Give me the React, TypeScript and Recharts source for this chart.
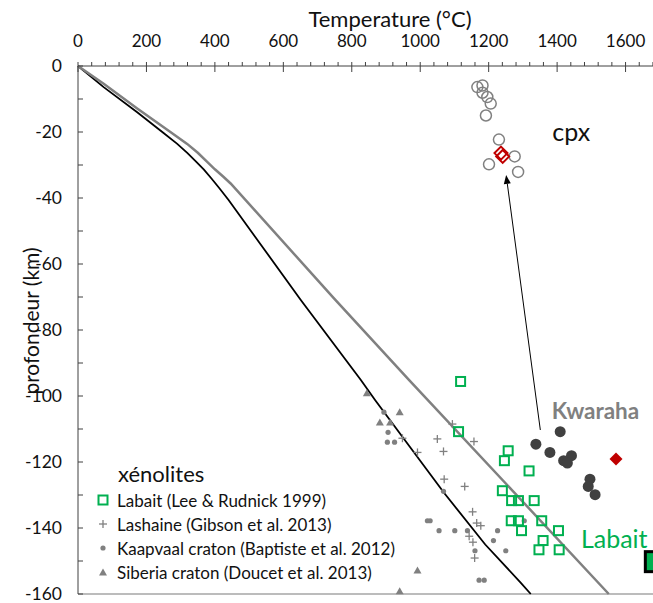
import React from "react";
import { ScatterChart, Scatter, XAxis, YAxis, ReferenceLine, ReferenceDot, Legend, Label } from "recharts";

const FONT = "Lato, 'Open Sans', sans-serif";
const GREEN = "#00b050";
const GREY = "#808080";
const DARK = "#404040";
const RED = "#c00000";
const AXIS = "#404040";

// tick labels
const tempTicks = [0, 200, 400, 600, 800, 1000, 1200, 1400, 1600];
const depthTicks = [0, -20, -40, -60, -80, -100, -120, -140, -160];
const xMinorStep = 40;
const yMinorStep = 10;

// geotherms (T in °C, d in km)
const blackGeotherm = [
  { T: 0, d: 0 }, { T: 75, d: -6.4 }, { T: 173, d: -14 }, { T: 250, d: -20.3 }, { T: 290, d: -23.6 },
  { T: 320, d: -26.4 }, { T: 345, d: -29 }, { T: 368, d: -31.4 }, { T: 390, d: -34.1 },
  { T: 412, d: -36.9 }, { T: 440, d: -40.6 }, { T: 651, d: -70.9 }, { T: 826, d: -95.1 },
  { T: 868, d: -101.2 }, { T: 1070, d: -129.4 }, { T: 1190, d: -145 }, { T: 1294, d: -156.6 },
  { T: 1323, d: -160 },
];
const greyGeotherm = [
  { T: 0, d: 0 }, { T: 75, d: -5.4 }, { T: 173, d: -12.9 }, { T: 270, d: -20 }, { T: 319, d: -23.6 },
  { T: 350, d: -26.3 }, { T: 376, d: -28.9 }, { T: 400, d: -31.3 }, { T: 424, d: -33.5 },
  { T: 446, d: -35.6 }, { T: 748, d: -70.4 }, { T: 967, d: -95.1 }, { T: 1294, d: -131.4 },
  { T: 1551, d: -160 },
];

// xenoliths
const labait = [
  { T: 1118, d: -95.6 }, { T: 1112, d: -110.8 }, { T: 1257, d: -116.6 }, { T: 1246, d: -119.6 },
  { T: 1318, d: -122.7 }, { T: 1240, d: -128.7 }, { T: 1267, d: -131.7 }, { T: 1287, d: -131.7 },
  { T: 1333, d: -131.7 }, { T: 1266, d: -137.8 }, { T: 1287, d: -137.8 }, { T: 1355, d: -137.8 },
  { T: 1296, d: -140.8 }, { T: 1404, d: -140.8 }, { T: 1359, d: -143.8 }, { T: 1347, d: -146.6 },
  { T: 1406, d: -146.6 },
];
const lashaine = [
  { T: 1094, d: -108.5 }, { T: 1050, d: -113 }, { T: 1157, d: -113.8 }, { T: 948, d: -112.8 },
  { T: 992, d: -117.1 }, { T: 1068, d: -116.8 }, { T: 1070, d: -125.2 }, { T: 1130, d: -127.4 },
  { T: 1153, d: -135.1 }, { T: 1165, d: -138.5 }, { T: 1177, d: -139.3 }, { T: 1143, d: -142.5 },
  { T: 1154, d: -144.3 }, { T: 1159, d: -149.1 },
];
const kaapvaal = [
  { T: 894, d: -104.9 }, { T: 906, d: -111 }, { T: 904, d: -114 }, { T: 925, d: -114 },
  { T: 1068, d: -128.9 }, { T: 1021, d: -137.8 }, { T: 1029, d: -137.8 }, { T: 1055, d: -140.8 },
  { T: 1101, d: -140.8 }, { T: 1138, d: -140.8 }, { T: 1226, d: -140.8 }, { T: 1214, d: -143.8 },
  { T: 1160, d: -146.9 }, { T: 1250, d: -146.9 }, { T: 1304, d: -137.8 }, { T: 1172, d: -155.8 },
  { T: 1187, d: -155.8 },
];
const siberia = [
  { T: 844, d: -99.2 }, { T: 940, d: -104.9 }, { T: 882, d: -108 }, { T: 912, d: -108 },
  { T: 992, d: -152.9 }, { T: 940, d: -159.2 },
];

// Kwaraha and cpx
const kwaraha = [
  { T: 1409, d: -110.8 }, { T: 1338, d: -114.6 }, { T: 1379, d: -117.1 }, { T: 1442, d: -118.1 },
  { T: 1419, d: -119.6 }, { T: 1430, d: -120.3 }, { T: 1496, d: -125.2 }, { T: 1491, d: -127.4 },
  { T: 1511, d: -129.9 },
];
const kwarahaMean = [{ T: 1572, d: -119.1 }];
const cpx = [
  { T: 1167, d: -6.4 }, { T: 1182, d: -5.9 }, { T: 1182, d: -8.1 }, { T: 1196, d: -9.4 },
  { T: 1206, d: -11.4 }, { T: 1192, d: -15 }, { T: 1230, d: -22.3 }, { T: 1276, d: -27.4 },
  { T: 1201, d: -29.8 }, { T: 1286, d: -32.1 },
];
const cpxMean = [{ T: 1236, d: -26.4 }, { T: 1241, d: -27.4 }];
const arrowFrom = { T: 1351, d: -110.3 };
const arrowTo = { T: 1251, d: -33 };

const xTicks = Array.from({ length: 1800 / xMinorStep + 1 }, (_, i) => i * xMinorStep);
const yTicks = Array.from({ length: 160 / yMinorStep + 1 }, (_, i) => -i * yMinorStep);

const TopTick = ({ x, y, payload }: any) => {
  const major = payload.value % 200 === 0;
  const labelled = tempTicks.includes(payload.value);
  return (
    <g>
      <line x1={x} x2={x} y1={y - 4} y2={major ? y + 6 : y} stroke={AXIS} strokeWidth={1} />
      {labelled && (
        <text x={x} y={y - 19} textAnchor="middle" fontSize={17} fontFamily={FONT} fill="#111">
          {payload.value}
        </text>
      )}
    </g>
  );
};

const LeftTick = ({ x, y, payload }: any) => {
  const major = depthTicks.includes(payload.value);
  return (
    <g>
      <line x1={x} x2={x + 5} y1={y} y2={y} stroke={AXIS} strokeWidth={1} />
      {major && (
        <text x={x - 16} y={y + 6} textAnchor="end" fontSize={17.5} fontFamily={FONT} fill="#111">
          {payload.value}
        </text>
      )}
    </g>
  );
};

const Square = ({ cx, cy }: any) => (
  <rect x={cx - 4.5} y={cy - 4.5} width={9} height={9} fill="none" stroke={GREEN} strokeWidth={2} />
);
const Plus = ({ cx, cy }: any) => (
  <g stroke={GREY} strokeWidth={1.3}>
    <line x1={cx - 4} x2={cx + 4} y1={cy} y2={cy} />
    <line x1={cx} x2={cx} y1={cy - 4} y2={cy + 4} />
  </g>
);
const SmallDot = ({ cx, cy }: any) => <circle cx={cx} cy={cy} r={2.6} fill={GREY} />;
const Triangle = ({ cx, cy }: any) => (
  <polygon points={`${cx},${cy - 4} ${cx - 4},${cy + 3} ${cx + 4},${cy + 3}`} fill={GREY} />
);
const BigDot = ({ cx, cy }: any) => <circle cx={cx} cy={cy} r={5.5} fill={DARK} />;
const OpenCircle = ({ cx, cy }: any) => (
  <circle cx={cx} cy={cy} r={5.5} fill="none" stroke={GREY} strokeWidth={1.5} />
);
const Diamond = ({ cx, cy, filled }: any) => (
  <polygon
    points={`${cx},${cy - 6.5} ${cx + 6.5},${cy} ${cx},${cy + 6.5} ${cx - 6.5},${cy}`}
    fill={filled ? RED : "none"}
    stroke={RED}
    strokeWidth={filled ? 0 : 2}
  />
);
const NoDot = () => <g />;

const Arrow = (p: any) => {
  const { x1, y1, x2, y2 } = p;
  const a = Math.atan2(y2 - y1, x2 - x1);
  const bx = x2 - 9 * Math.cos(a);
  const by = y2 - 9 * Math.sin(a);
  const ox = -Math.sin(a) * 3.5;
  const oy = Math.cos(a) * 3.5;
  return (
    <g>
      <line x1={x1} y1={y1} x2={bx} y2={by} stroke="#000" strokeWidth={1} />
      <polygon points={`${x2},${y2} ${bx + ox},${by + oy} ${bx - ox},${by - oy}`} fill="#000" />
    </g>
  );
};

const textAt = (txt: string, size: number, color: string, bold = false) => (p: any) => (
  <text x={p.cx} y={p.cy} textAnchor="middle" fontSize={size} fontFamily={FONT} fill={color} fontWeight={bold ? 700 : 400}>
    {txt}
  </text>
);

const legendRows = [
  { label: "Labait (Lee & Rudnick 1999)", shape: "square" },
  { label: "Lashaine (Gibson et al. 2013)", shape: "plus" },
  { label: "Kaapvaal craton (Baptiste et al. 2012)", shape: "dot" },
  { label: "Siberia craton (Doucet et al. 2013)", shape: "triangle" },
];

const LegendMark = ({ shape }: { shape: string }) => (
  <svg width={14} height={14} style={{ marginRight: 7, flex: "none" }}>
    {shape === "square" && <Square cx={7} cy={7} />}
    {shape === "plus" && <Plus cx={7} cy={7} />}
    {shape === "dot" && <SmallDot cx={7} cy={7} />}
    {shape === "triangle" && <Triangle cx={7} cy={7.5} />}
  </svg>
);

const XenoLegend = () => (
  <div style={{ fontFamily: FONT, color: "#111" }}>
    <div style={{ fontSize: 22, lineHeight: "28px", paddingLeft: 22 }}>xénolites</div>
    {legendRows.map((r) => (
      <div key={r.label} style={{ display: "flex", alignItems: "center", height: 24, fontSize: 17, whiteSpace: "nowrap" }}>
        <LegendMark shape={r.shape} />
        <span>{r.label}</span>
      </div>
    ))}
  </div>
);

export default function App() {
  return (
    <div style={{ position: "fixed", left: 0, top: 0, width: 653, height: 603, overflow: "hidden", background: "#fff" }}>
      <ScatterChart width={700} height={603} margin={{ top: 6, right: 6, bottom: 9, left: 0 }}>
        <XAxis
          type="number"
          dataKey="T"
          orientation="top"
          domain={[0, 1800]}
          ticks={xTicks}
          interval={0}
          height={60}
          tickSize={0}
          tickMargin={0}
          tickLine={false}
          axisLine={{ stroke: AXIS }}
          tick={<TopTick />}
        >
          <Label
            content={(p: any) => (
              <text x={p.viewBox.x + p.viewBox.width / 2 + 4} y={27} textAnchor="middle" fontSize={22} fontFamily={FONT} fill="#111">
                Temperature (°C)
              </text>
            )}
          />
        </XAxis>
        <YAxis
          type="number"
          dataKey="d"
          domain={[-160, 0]}
          ticks={yTicks}
          interval={0}
          width={78}
          tickSize={0}
          tickMargin={0}
          tickLine={false}
          axisLine={{ stroke: AXIS }}
          tick={<LeftTick />}
        >
          <Label
            content={() => (
              <text x={30} y={321} transform="rotate(-90, 30, 321)" textAnchor="middle" dominantBaseline="central" fontSize={21} fontFamily={FONT} fill="#111">
                profondeur  (km)
              </text>
            )}
          />
        </YAxis>
        <ReferenceLine y={-160} stroke="#a6a6a6" strokeWidth={1.5} />
        <Legend layout="vertical" align="center" verticalAlign="middle" wrapperStyle={{ left: 96, top: 460, width: 330 }} content={() => <XenoLegend />} />

        <Scatter name="geotherm1" data={blackGeotherm} fill="#000" line={{ stroke: "#000", strokeWidth: 1.8 }} shape={<NoDot />} legendType="none" isAnimationActive={false} />
        <Scatter name="geotherm2" data={greyGeotherm} fill={GREY} line={{ stroke: GREY, strokeWidth: 2.5 }} shape={<NoDot />} legendType="none" isAnimationActive={false} />

        <Scatter name="Siberia" data={siberia} shape={<Triangle />} legendType="none" isAnimationActive={false} />
        <Scatter name="Kaapvaal" data={kaapvaal} shape={<SmallDot />} legendType="none" isAnimationActive={false} />
        <Scatter name="Lashaine" data={lashaine} shape={<Plus />} legendType="none" isAnimationActive={false} />
        <Scatter name="Labait" data={labait} shape={<Square />} legendType="none" isAnimationActive={false} />
        <Scatter name="Kwaraha" data={kwaraha} shape={<BigDot />} legendType="none" isAnimationActive={false} />
        <Scatter name="Kwaraha mean" data={kwarahaMean} shape={<Diamond filled />} legendType="none" isAnimationActive={false} />
        <Scatter name="cpx" data={cpx} shape={<OpenCircle />} legendType="none" isAnimationActive={false} />
        <Scatter name="cpx mean" data={cpxMean} shape={<Diamond />} legendType="none" isAnimationActive={false} />

        <ReferenceLine segment={[{ x: arrowFrom.T, y: arrowFrom.d }, { x: arrowTo.T, y: arrowTo.d }]} shape={Arrow} ifOverflow="visible" />

        <ReferenceDot x={1441} y={-22.7} r={0} shape={textAt("cpx", 25, "#111")} />
        <ReferenceDot x={1512} y={-107.1} r={0} shape={textAt("Kwaraha", 22.5, GREY, true)} />
        <ReferenceDot x={1567} y={-146.1} r={0} shape={textAt("Labait", 25, GREEN)} />
        <ReferenceDot
          x={1687}
          y={-150.2}
          r={0}
          shape={(p: any) => <rect x={p.cx - 10} y={p.cy - 10} width={20} height={20} fill={GREEN} stroke="#000" strokeWidth={3} />}
        />
      </ScatterChart>
    </div>
  );
}
